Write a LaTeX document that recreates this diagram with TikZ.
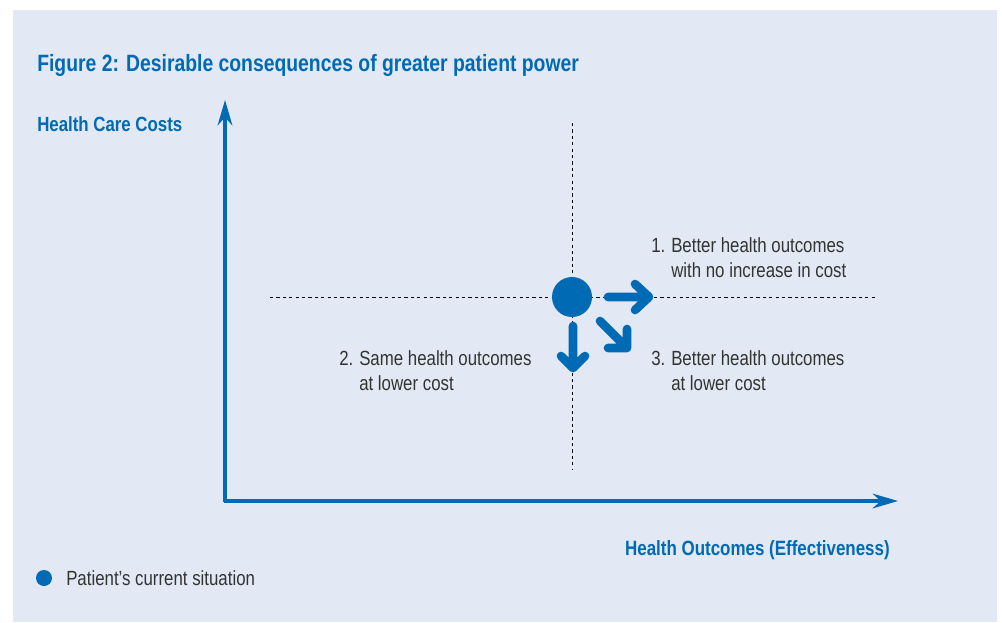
\documentclass[tikz,border=0pt]{standalone}
\usepackage{fontspec}
\setmainfont{Liberation Sans}[FakeStretch=0.82]
\usetikzlibrary{arrows.meta}
\definecolor{cblue}{RGB}{0,106,180}
\definecolor{cbg}{RGB}{226,232,244}
\definecolor{ctext}{RGB}{51,51,51}
\newcommand{\itemnum}[1]{\makebox[15pt][l]{#1}}
\tikzset{
  axis/.style={cblue, line width=2.6pt, -{Stealth[length=19,width=11,inset=6]}},
  guide/.style={black, line width=0.6pt, dash pattern=on 2.4pt off 2.4pt},
  fat/.style={cblue, line width=6.5pt, line cap=round, line join=round},
  lbl/.style={text=ctext, font=\fontsize{15.4}{18.75}\selectfont, align=left, inner sep=0pt},
  head/.style={text=cblue, font=\bfseries\fontsize{15.4}{18}\selectfont, inner sep=0pt},
}
\begin{document}
\begin{tikzpicture}[x=0.75pt,y=-0.75pt]
\useasboundingbox (0,0) rectangle (1002,622);
\fill[cbg] (13,10) rectangle (997,622);
\node[head, anchor=base west, font=\bfseries\fontsize{17.7}{20}\selectfont] (title) at (37,71) {Figure 2: Desirable consequences of greater patient power};
\node[head, anchor=base west] (ylab) at (37,131) {Health Care Costs};
\node[head, anchor=base east, font=\bfseries\fontsize{15.5}{18}\selectfont] (xlab) at (890,555) {Health Outcomes (Effectiveness)};
\coordinate (o) at (225,501);
\coordinate (ytop) at (225,100);
\coordinate (xend) at (898,501);
\draw[guide] (572,123) coordinate (vt) -- (572,470) coordinate (vb);
\draw[guide] (270,297) coordinate (hl) -- (876,297) coordinate (hr);
\draw[axis] (o) ++(0,1.3) -- (ytop);
\draw[axis] (o) ++(-1.3,0) -- (xend);
\node[circle, fill=cblue, minimum size=30, inner sep=0pt] (dot) at (572,297) {};
% arrows
\coordinate (r1) at (608,297); \coordinate (r2) at (649,297);
\draw[fat] (r1) -- (r2) ++(-14,-13) -- (r2) -- ++(-14,13);
\coordinate (d1) at (573,326); \coordinate (d2) at (573,368);
\draw[fat] (d1) -- (d2) ++(-12,-12) -- (d2) -- ++(12,-12);
\coordinate (g1) at (600,321); \coordinate (g2) at (627,348);
\draw[fat] (g1) -- (g2) ++(0,-19) -- (g2) -- ++(-19,0);
\node[lbl, anchor=base west] (l1) at (651,277) {\itemnum{1.}Better health outcomes\\\itemnum{}with no increase in cost};
\node[lbl, anchor=base west] (l2) at (339,390) {\itemnum{2.}Same health outcomes\\\itemnum{}at lower cost};
\node[lbl, anchor=base west] (l3) at (651,390) {\itemnum{3.}Better health outcomes\\\itemnum{}at lower cost};
\node[circle, fill=cblue, minimum size=12, inner sep=0pt] (ldot) at (44,578) {};
\node[lbl, anchor=west] (ltxt) at (66,578) {Patient’s current situation};
\end{tikzpicture}
\end{document}
